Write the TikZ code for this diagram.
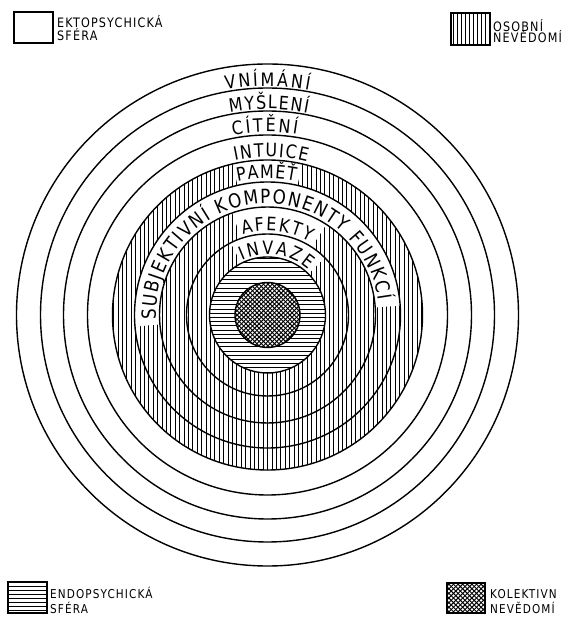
\documentclass[tikz,border=0pt]{standalone}
\usepackage{fontspec}
\setmainfont{DejaVu Sans}
\newfontfamily\lblfont{DejaVu Sans}[FakeStretch=0.86]
\newfontfamily\legfont{DejaVu Sans}[FakeStretch=0.86,LetterSpace=9]
\usetikzlibrary{decorations.text}
\tikzset{
  ring/.style={line width=1.4pt},
  hatchv/.style={line width=0.75pt},
  hatchh/.style={line width=0.8pt},
  hatchx/.style={line width=0.95pt},
  legbox/.style={line width=1.3pt},
  legtext/.style={anchor=base west, inner sep=0pt, font=\legfont\fontsize{13}{15}\selectfont},
  legtextsm/.style={anchor=base west, inner sep=0pt, font=\legfont\fontsize{12.2}{14}\selectfont},
  arclabel/.style={decorate, decoration={text along path, text={|\lblfont\fontsize{18.5}{21}\selectfont|#1}, text align=fit to path}},
  arclabelbig/.style={decorate, decoration={text along path, text={|\lblfont\fontsize{19.5}{22}\selectfont|#1}, text align=fit to path}}
}
\newcommand\annsec[4]{\fill[white] (#3:#1pt) arc[start angle=#3,end angle=#4,radius=#1pt] -- (#4:#2pt) arc[start angle=#4,end angle=#3,radius=#2pt] -- cycle;}
\begin{document}
\begin{tikzpicture}[x=1pt,y=1pt]
\useasboundingbox (-267.5,-302) rectangle (298.5,315);
% vertical hatching (osobni nevedomi)
\begin{scope}[even odd rule]
  \clip (0,0) circle (155pt) (0,0) circle (58pt);
  \foreach \x in {-154,-149.6,...,155} \draw[hatchv] (\x,-156) -- (\x,156);
\end{scope}
% horizontal hatching (endopsychicka sfera)
\begin{scope}[even odd rule]
  \clip (0,0) circle (58pt) (0,0) circle (32.5pt);
  \foreach \y in {-57,-52.8,...,58} \draw[hatchh] (-60,\y) -- (60,\y);
\end{scope}
% cross hatching (kolektivni nevedomi)
\begin{scope}
  \clip (0,0) circle (32.5pt);
  \foreach \t in {-70,-65.6,...,70} {
    \draw[hatchx] (\t-40,-40) -- (\t+40,40);
    \draw[hatchx] (\t-40,40) -- (\t+40,-40);
  }
\end{scope}
% white backgrounds behind labels
\annsec{133}{155}{103}{77}
\annsec{108}{133}{185}{4}
\annsec{81}{108}{109}{57}
\annsec{58}{81}{117}{45}
% rings
\foreach \r in {251,227,204,180,155,133,108,81,58,32.5} \draw[ring] (0,0) circle (\r pt);
% labels
\path[arclabel={VNÍMÁNÍ}] (100.5:229pt) arc[start angle=100.5,end angle=79.5,radius=229pt];
\path[arclabel={MYŠLENÍ}] (100.5:206pt) arc[start angle=100.5,end angle=78.7,radius=206pt];
\path[arclabel={CÍTĚNÍ}] (100.9:183pt) arc[start angle=100.9,end angle=80.7,radius=183pt];
\path[arclabel={INTUICE}] (101.9:158pt) arc[start angle=101.9,end angle=75.5,radius=158pt];
\path[arclabel={PAMĚŤ}] (102.6:137pt) arc[start angle=102.6,end angle=78.2,radius=137pt];
\path[arclabelbig={SUBJEKTIVNÍ KOMPONENTY FUNKCÍ}] (182.5:111.5pt) arc[start angle=182.5,end angle=7.5,radius=111.5pt];
\path[arclabel={AFEKTY}] (107:84pt) arc[start angle=107,end angle=60,radius=84pt];
\path[arclabel={INVAZE}] (115:60.5pt) arc[start angle=115,end angle=48,radius=60.5pt];
% legend: ektopsychicka sfera
\draw[legbox] (-253.5,272) rectangle (-214.5,303);
\node[legtext] (ekto1) at (-210.5,287) {EKTOPSYCHICKÁ};
\node[legtext] (ekto2) at (-210.5,274) {SFÉRA};
% legend: osobni nevedomi
\begin{scope}
  \clip (183.5,270) rectangle (222.5,302);
  \foreach \x in {186,190,...,222} \draw[hatchv] (\x,268) -- (\x,304);
\end{scope}
\draw[legbox] (183.5,270) rectangle (222.5,302);
\node[legtext] (oso1) at (225.5,283) {OSOBNÍ};
\node[legtext] (oso2) at (225.5,272) {NEVĚDOMÍ};
% legend: endopsychicka sfera
\begin{scope}
  \clip (-259.5,-298) rectangle (-220.5,-267);
  \foreach \y in {-295,-291,...,-268} \draw[hatchh] (-262,\y) -- (-218,\y);
\end{scope}
\draw[legbox] (-259.5,-298) rectangle (-220.5,-267);
\node[legtextsm] (endo1) at (-217.5,-283) {ENDOPSYCHICKÁ};
\node[legtextsm] (endo2) at (-217.5,-298) {SFÉRA};
% legend: kolektivni nevedomi
\begin{scope}
  \clip (179.5,-298) rectangle (217.5,-268);
  \foreach \t in {140,144.6,...,260} {
    \draw[hatchx] (\t-40,-323) -- (\t+40,-243);
    \draw[hatchx] (\t-40,-243) -- (\t+40,-323);
  }
\end{scope}
\draw[legbox] (179.5,-298) rectangle (217.5,-268);
\node[legtextsm] (kol1) at (222.5,-283) {KOLEKTIVN};
\node[legtextsm] (kol2) at (222.5,-298) {NEVĚDOMÍ};
\end{tikzpicture}
\end{document}
